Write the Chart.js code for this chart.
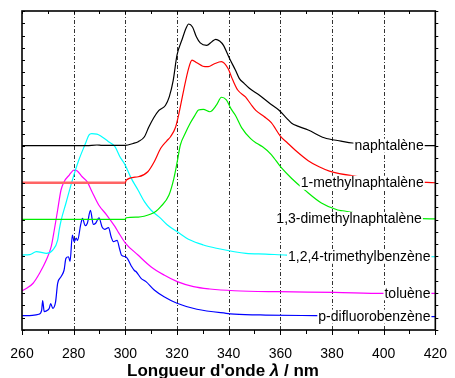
<!DOCTYPE html>
<html><head><meta charset="utf-8">
<script src="https://cdn.jsdelivr.net/npm/chart.js@4/dist/chart.umd.min.js"></script>
<style>html,body{margin:0;padding:0;background:#fff}#wrap{width:455px;height:378px}</style>
</head><body><div id="wrap"><canvas id="c" width="455" height="378"></canvas></div>
<script>
const seriesNames = ["naphtalène","1-methylnaphtalène","1,3-dimethylnaphtalène","1,2,4-trimethylbenzène","toluène","p-difluorobenzène"];
const xTickLabels = [260,280,300,320,340,360,380,400,420];

const naphWl  = [260,285,289,291,300,303,305,307.4,309,311,313,315.5,317,318.5,320,322,323.5,324.5,326,327.5,329,331.5,333.5,335,336.5,338,340.3,342.6,344.1,346,348,351.8,355.6,359.4,362.5,364.4,367,370.8,377,383.5,388,400,410,420];
const naphInt = [15.02,15.02,15.08,15.05,15.05,15.2,15.35,15.75,16.5,17.3,17.9,18.3,19.0,20.3,22.4,23.7,24.6,24.94,24.7,23.9,23.4,23.2,23.5,23.69,23.55,23.2,22.14,21.19,20.51,20.1,19.7,19.15,18.52,17.93,17.25,16.85,16.6,16.3,15.67,15.4,15.24,15.1,15.05,15.02];

const mnWl  = [260,300,300.3,305,308.7,311.2,313.7,316,317.5,319.4,320.7,322.6,324.5,325.8,327.7,330,332.1,334.5,337.2,339.7,341.6,343.5,346.5,348.6,350.5,353.7,356.5,360,362.5,365.7,370.8,375,379,390,400,410,420];
const mnInt = [12.0,12.0,12.2,12.49,12.9,13.72,14.81,15.4,15.75,16.5,17.6,19.56,21.33,22.0,21.78,21.5,21.46,21.7,21.87,21.33,20.37,19.56,19.0,18.4,17.9,17.4,16.9,15.8,15.3,14.67,13.8,13.3,12.95,12.5,12.25,12.1,12.0];

const dmnWl  = [260,300,300.3,305,309.9,312,313.7,316.9,318.8,320.1,321.3,323.2,325.1,327,328.3,330.2,332.7,335.3,337.2,339.1,341,342.6,345,348.5,351,353,356.5,360.3,364.4,369.5,375.9,382.2,384.1,395,405,420];
const dmnInt = [9.02,9.02,9.15,9.2,9.45,9.7,10.05,11.0,12.36,13.72,15.08,16.03,16.85,17.52,17.93,17.99,17.79,18.34,18.97,18.75,18.0,17.5,16.5,15.6,15.2,14.95,14.3,13.25,12.35,11.4,10.35,9.78,9.72,9.35,9.15,9.05];

const tmbWl  = [260,263,265.6,267,269.4,271.9,273.8,274.4,275.1,277,279.5,282,284.6,285.9,287,289,290.9,293.5,296,297.9,299.8,302.3,304.9,307.4,309.9,313.7,316.3,320.1,325.1,330.2,335.3,342.2,346.7,354.3,362.5,390,420];
const tmbInt = [6.11,6.15,6.38,6.35,6.25,6.52,7.33,8.15,8.9,10.33,12.22,13.85,15.22,15.89,16.0,15.97,15.75,15.35,14.94,14.12,13.5,12.36,11.41,10.46,9.78,9.1,8.56,8.01,7.33,6.93,6.66,6.38,6.25,6.19,6.11,6.0,5.97];

const tolWl  = [260,261.8,264.3,266.8,269.4,271.3,272.5,273.8,275.1,276.3,278.3,280.2,281.4,283.3,285.2,287.1,289.7,292.8,296,297.5,300,304.9,309.9,315,320.1,326.4,332.7,342.2,359.4,380.9,400,420];
const tolInt = [3.2,3.4,3.81,4.62,5.7,6.79,8.15,9.78,11.41,12.09,12.63,13.04,12.96,12.49,12.09,11.27,10.19,9.37,8.42,7.9,7.09,6.11,5.16,4.48,3.94,3.53,3.34,3.2,3.12,3.07,2.99,2.99];

const dfbWl  = [260,264,266.5,267.6,268.0,268.6,270,270.6,271.1,271.9,273.0,273.8,275.1,276.3,277.0,278.0,278.6,279.5,280.2,281.0,281.5,282.7,283.4,284.5,285.3,286.5,287.6,288.5,289.8,291.0,292.0,293.5,294.5,295.4,296.8,297.8,298.5,300.4,302.3,303.5,304.2,306.1,308,311.2,315,320,327.7,339,342.2,354.3,373.3,400,420];
const dfbInt = [1.17,1.2,1.28,1.6,2.4,1.5,1.63,1.8,2.15,1.77,2.3,3.8,4.34,4.89,5.84,5.97,5.6,7.74,7.2,7.5,7.3,8.56,9.1,8.5,8.7,9.75,8.6,8.7,9.15,8.4,8.2,8.35,7.6,7.2,7.3,6.6,6.11,5.93,5.22,4.85,4.75,4.21,3.94,3.26,2.71,2.18,1.69,1.36,1.3,1.22,1.17,1.12,1.09];

const colors = ["#000000","#ff0000","#00ee00","#00ffff","#ff00ff","#0000ff"];
const labelEndNm = [415.5,415.5,414.8,418.1,418.1,418.1];

const wls = [naphWl,mnWl,dmnWl,tmbWl,tolWl,dfbWl];
const ints = [naphInt,mnInt,dmnInt,tmbInt,tolInt,dfbInt];

const datasets = seriesNames.map((name,i)=>{
  const ds = {
    label: name,
    data: wls[i].map((w,j)=>({x:w,y:ints[i][j]})),
    borderColor: colors[i],
    borderWidth: 1.2,
    pointRadius: 0,
    fill: false,
    cubicInterpolationMode: 'monotone'
  };
  if (i===1) {
    ds.segment = {
      borderWidth: c => c.p1.parsed.x <= 300.05 ? 2.6 : 1.2,
      borderColor: c => c.p1.parsed.x <= 300.05 ? '#ff6464' : '#ff0000'
    };
  }
  return ds;
});

const FONT = '"Liberation Sans", Arial, Helvetica, sans-serif';

const decor = {
  id: 'decor',
  beforeDatasetsDraw(chart){
    const ctx = chart.ctx, a = chart.chartArea, xs = chart.scales.x;
    ctx.save();
    ctx.strokeStyle = '#333';
    ctx.lineWidth = 1;
    ctx.setLineDash([4,2,1,2]);
    for (let v = 280; v <= 400; v += 20) {
      const x = Math.round(xs.getPixelForValue(v)) + 0.5;
      ctx.beginPath(); ctx.moveTo(x, a.top); ctx.lineTo(x, a.bottom); ctx.stroke();
    }
    ctx.restore();
  },
  afterDatasetsDraw(chart){
    const ctx = chart.ctx, a = chart.chartArea, xs = chart.scales.x, ys = chart.scales.y;
    ctx.save();
    ctx.font = '14px ' + FONT;
    ctx.textBaseline = 'middle';
    ctx.textAlign = 'right';
    chart.data.datasets.forEach((ds,i)=>{
      const last = ds.data[ds.data.length-1];
      const y = ys.getPixelForValue(last.y);
      const xr = xs.getPixelForValue(labelEndNm[i]);
      const w = ctx.measureText(ds.label).width;
      ctx.fillStyle = '#fff';
      ctx.fillRect(xr - w - 1, y - 7, w + 2, 14);
      ctx.fillStyle = '#000';
      ctx.fillText(ds.label, xr, y + 0.5);
    });
    // frame
    ctx.setLineDash([]);
    ctx.strokeStyle = '#000';
    ctx.lineWidth = 1.6;
    ctx.strokeRect(a.left, a.top, a.right - a.left, a.bottom - a.top);
    ctx.lineWidth = 1;
    ctx.beginPath();
    for (let v = ys.min; v <= ys.max; v += 1) {
      const y = Math.round(ys.getPixelForValue(v)) + 0.5;
      ctx.moveTo(a.left, y); ctx.lineTo(a.left + 3, y);
      ctx.moveTo(a.right, y); ctx.lineTo(a.right + 3, y);
    }
    for (let v = 260; v <= 420; v += 10) {
      const x = Math.round(xs.getPixelForValue(v)) + 0.5;
      const major = (v % 20 === 0);
      ctx.moveTo(x, a.bottom); ctx.lineTo(x, a.bottom + (major ? 5 : 4));
      ctx.moveTo(x, a.top); ctx.lineTo(x, a.top + 3);
    }
    ctx.stroke();
    // axis title
    ctx.textAlign = 'left';
    ctx.textBaseline = 'alphabetic';
    const p1 = "Longueur d'onde ", p2 = "λ", p3 = " / nm";
    ctx.font = 'bold 17px ' + FONT;
    const w1 = ctx.measureText(p1).width, w3 = ctx.measureText(p3).width;
    ctx.font = 'italic bold 17px ' + FONT;
    const w2 = ctx.measureText(p2).width;
    let x0 = 223 - (w1 + w2 + w3) / 2;
    const yb = 376;
    ctx.fillStyle = '#000';
    ctx.font = 'bold 17px ' + FONT; ctx.fillText(p1, x0, yb);
    ctx.font = 'italic bold 17px ' + FONT; ctx.fillText(p2, x0 + w1, yb);
    ctx.font = 'bold 17px ' + FONT; ctx.fillText(p3, x0 + w1 + w2, yb);
    ctx.restore();
  }
};

new Chart(document.getElementById('c'), {
  type: 'line',
  data: { datasets },
  options: {
    responsive: false,
    animation: false,
    devicePixelRatio: 1,
    layout: { padding: { left: 22, right: 12, top: 11, bottom: 0 } },
    plugins: { legend: { display: false }, tooltip: { enabled: false } },
    scales: {
      x: {
        type: 'linear', min: 260, max: 420,
        afterBuildTicks: s => { s.ticks = xTickLabels.map(v => ({ value: v })); },
        ticks: { color: '#000', font: { family: FONT, size: 14 }, padding: 8, maxRotation: 0, autoSkip: false },
        grid: { display: false },
        border: { display: false },
        afterFit: s => { s.height = 48; }
      },
      y: { display: false, min: 0, max: 26 }
    }
  },
  plugins: [decor]
});
</script>
</body></html>
